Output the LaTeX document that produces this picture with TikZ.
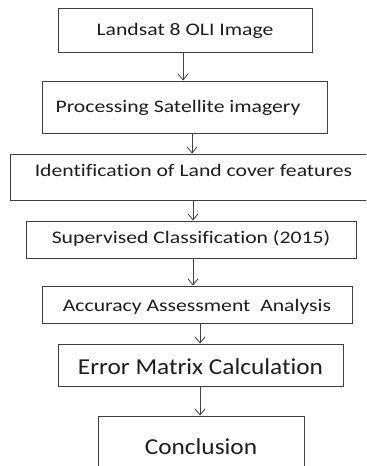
\documentclass[tikz,border=0pt]{standalone}
\usepackage{fontspec}
\setmainfont{Carlito}
\newfontfamily\normfont[FakeStretch=1.23,RawFeature={-liga;-clig}]{Carlito}
\newfontfamily\bigfont[FakeStretch=1.11,RawFeature={-liga;-clig}]{Carlito}
\usetikzlibrary{arrows.meta,calc}
\definecolor{edge}{HTML}{404040}
\definecolor{ink}{HTML}{1E1E1E}
\tikzset{
  stepbox/.style={draw=edge, line width=0.9bp, rectangle, inner sep=0pt, text=ink,
    font=\normfont\fontsize{17.7}{19}\selectfont, text height=11.4bp, text depth=0bp},
  bigbox/.style={stepbox, font=\bigfont\fontsize{22.9}{24}\selectfont, text height=14.7bp},
  arr/.style={draw=edge, line width=0.8bp, -{Straight Barb[length=6bp,width=10bp]}}
}
\begin{document}
\begin{tikzpicture}[x=1bp,y=-1bp]
\useasboundingbox (0,0) rectangle (366,466);
\clip (0,0) rectangle (366,466);
\node[stepbox, minimum width=254bp, minimum height=44bp] (b1) at (185,30) {Landsat 8 OLI Image};
\node[stepbox, minimum width=285bp, minimum height=52bp] (b2) at (184.5,107) {\hspace*{-13bp}Processing Satellite imagery};
\node[stepbox, minimum width=367bp, minimum height=46bp, text depth=12bp] (b3) at (193.5,177) {Identification of Land cover features};
\node[stepbox, minimum width=330bp, minimum height=37bp, text depth=4bp] (b4) at (191,239.5) {Supervised Classification (2015)};
\node[stepbox, minimum width=310bp, minimum height=37bp, text height=14.4bp] (b5) at (197,304.5) {Accuracy Assessment~ Analysis};
\node[bigbox, minimum width=285bp, minimum height=42bp, text height=18.7bp] (b6) at (200.5,365) {Error Matrix Calculation};
\node[bigbox, minimum width=206bp, minimum height=61.4bp] (b7) at (201,446.7) {Conclusion};
\draw[arr] ([xshift=-2bp]b1.south) -- ([xshift=-2bp]b1.south |- b2.north);
\draw[arr] ([xshift=7.5bp]b2.south) -- ([xshift=7.5bp]b2.south |- b3.north);
\draw[arr] ([xshift=-0.5bp]b3.south) -- ([xshift=-0.5bp]b3.south |- b4.north);
\draw[arr] ([xshift=2bp]b4.south) -- ([xshift=2bp]b4.south |- b5.north);
\draw[arr] ([xshift=3bp]b5.south) -- ([xshift=3bp]b5.south |- b6.north);
\draw[arr] ([xshift=-0.5bp]b6.south) -- ([xshift=-0.5bp]b6.south |- b7.north);
\end{tikzpicture}
\end{document}
